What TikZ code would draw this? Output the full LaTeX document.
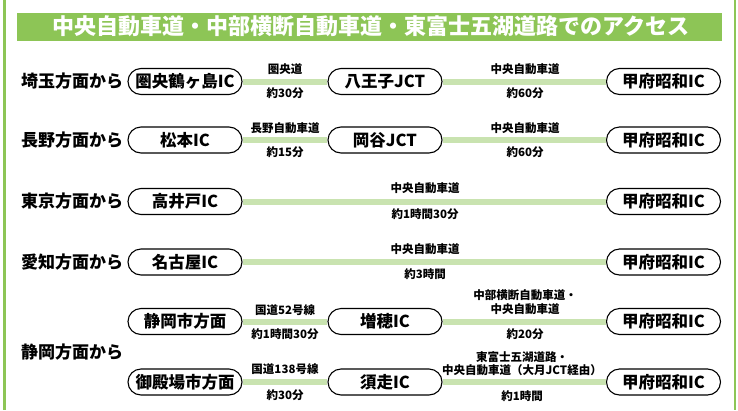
\documentclass[tikz,border=0pt]{standalone}
\usepackage{fontspec}
\setmainfont{Noto Sans CJK JP}
\definecolor{titlegreen}{HTML}{8DC556}
\definecolor{roadgreen}{HTML}{C9E3B0}
\tikzset{
  icbox/.style={draw, fill=white, line width=1.1pt, rounded corners=13pt,
    minimum width=114pt, minimum height=26pt, inner sep=0pt,
    font=\bfseries\fontsize{16.5}{16.5}\selectfont},
  road/.style={line width=6pt, draw=roadgreen},
  lbl/.style={font=\bfseries\fontsize{11.5}{13.5}\selectfont, inner sep=0pt, align=center},
  src/.style={anchor=west, inner sep=0pt, font=\bfseries\fontsize{17}{17}\selectfont},
}
\begin{document}
\begin{tikzpicture}[x=1pt,y=-1pt]
\useasboundingbox (0,0) rectangle (738,410);
% frame lines
\draw[titlegreen, line width=2.2pt] (4.5,0) -- (4.5,410);
\draw[titlegreen, line width=2.2pt] (735.3,0) -- (735.3,410);
% title
\node[fill=titlegreen, minimum width=705pt, minimum height=28pt, inner sep=0pt] (title) at (369.2,26.7) {};
\node[text=white, inner sep=0pt, font=\bfseries\fontsize{22}{22}\selectfont] (titletext) at (371,26.2) {中央自動車道・中部横断自動車道・東富士五湖道路でのアクセス};

% row 1
\node[src] (s1) at (21,81.5) {埼玉方面から};
\node[icbox] (a1) at (185,81.5) {圏央鶴ヶ島IC};
\node[icbox] (b1) at (385,81.5) {八王子JCT};
\node[icbox] (c1) at (663.5,81.5) {甲府昭和IC};
\draw[road] (a1.east) -- (b1.west);
\draw[road] (b1.east) -- (c1.west);
\node[lbl] (t1a) at (285,69) {圏央道};
\node[lbl] (u1a) at (285,93) {約30分};
\node[lbl] (t1b) at (525,69) {中央自動車道};
\node[lbl] (u1b) at (525,93) {約60分};

% row 2
\node[src] (s2) at (21,140) {長野方面から};
\node[icbox] (a2) at (185,140) {松本IC};
\node[icbox] (b2) at (385,140) {岡谷JCT};
\node[icbox] (c2) at (663.5,140) {甲府昭和IC};
\draw[road] (a2.east) -- (b2.west);
\draw[road] (b2.east) -- (c2.west);
\node[lbl] (t2a) at (285,128) {長野自動車道};
\node[lbl] (u2a) at (285,152) {約15分};
\node[lbl] (t2b) at (525,128) {中央自動車道};
\node[lbl] (u2b) at (525,152) {約60分};

% row 3
\node[src] (s3) at (21,201.5) {東京方面から};
\node[icbox] (a3) at (185,201.5) {高井戸IC};
\node[icbox] (c3) at (663.5,201.5) {甲府昭和IC};
\draw[road] (a3.east) -- (c3.west);
\node[lbl] (t3) at (425,188) {中央自動車道};
\node[lbl] (u3) at (425,214) {約1時間30分};

% row 4
\node[src] (s4) at (21,262) {愛知方面から};
\node[icbox] (a4) at (185,262) {名古屋IC};
\node[icbox] (c4) at (663.5,262) {甲府昭和IC};
\draw[road] (a4.east) -- (c4.west);
\node[lbl] (t4) at (425,249) {中央自動車道};
\node[lbl] (u4) at (425,274) {約3時間};

% rows 5-6
\node[src] (s5) at (21,352) {静岡方面から};
\node[icbox] (a5) at (185,321.5) {静岡市方面};
\node[icbox] (b5) at (385,321.5) {増穂IC};
\node[icbox] (c5) at (663.5,321.5) {甲府昭和IC};
\draw[road] (a5.east) -- (b5.west);
\draw[road] (b5.east) -- (c5.west);
\node[lbl] (t5a) at (285,310) {国道52号線};
\node[lbl] (u5a) at (285,334) {約1時間30分};
\node[lbl] (t5b) at (525,302) {中部横断自動車道・\\中央自動車道};
\node[lbl] (u5b) at (525,334) {約20分};

\node[icbox] (a6) at (185,382) {御殿場市方面};
\node[icbox] (b6) at (385,382) {須走IC};
\node[icbox] (c6) at (663.5,382) {甲府昭和IC};
\draw[road] (a6.east) -- (b6.west);
\draw[road] (b6.east) -- (c6.west);
\node[lbl] (t6a) at (285,369) {国道138号線};
\node[lbl] (u6a) at (285,395) {約30分};
\node[lbl] (t6b) at (522,363.5) {東富士五湖道路・\\中央自動車道（大月JCT経由）};
\node[lbl] (u6b) at (522,396) {約1時間};
\end{tikzpicture}
\end{document}
